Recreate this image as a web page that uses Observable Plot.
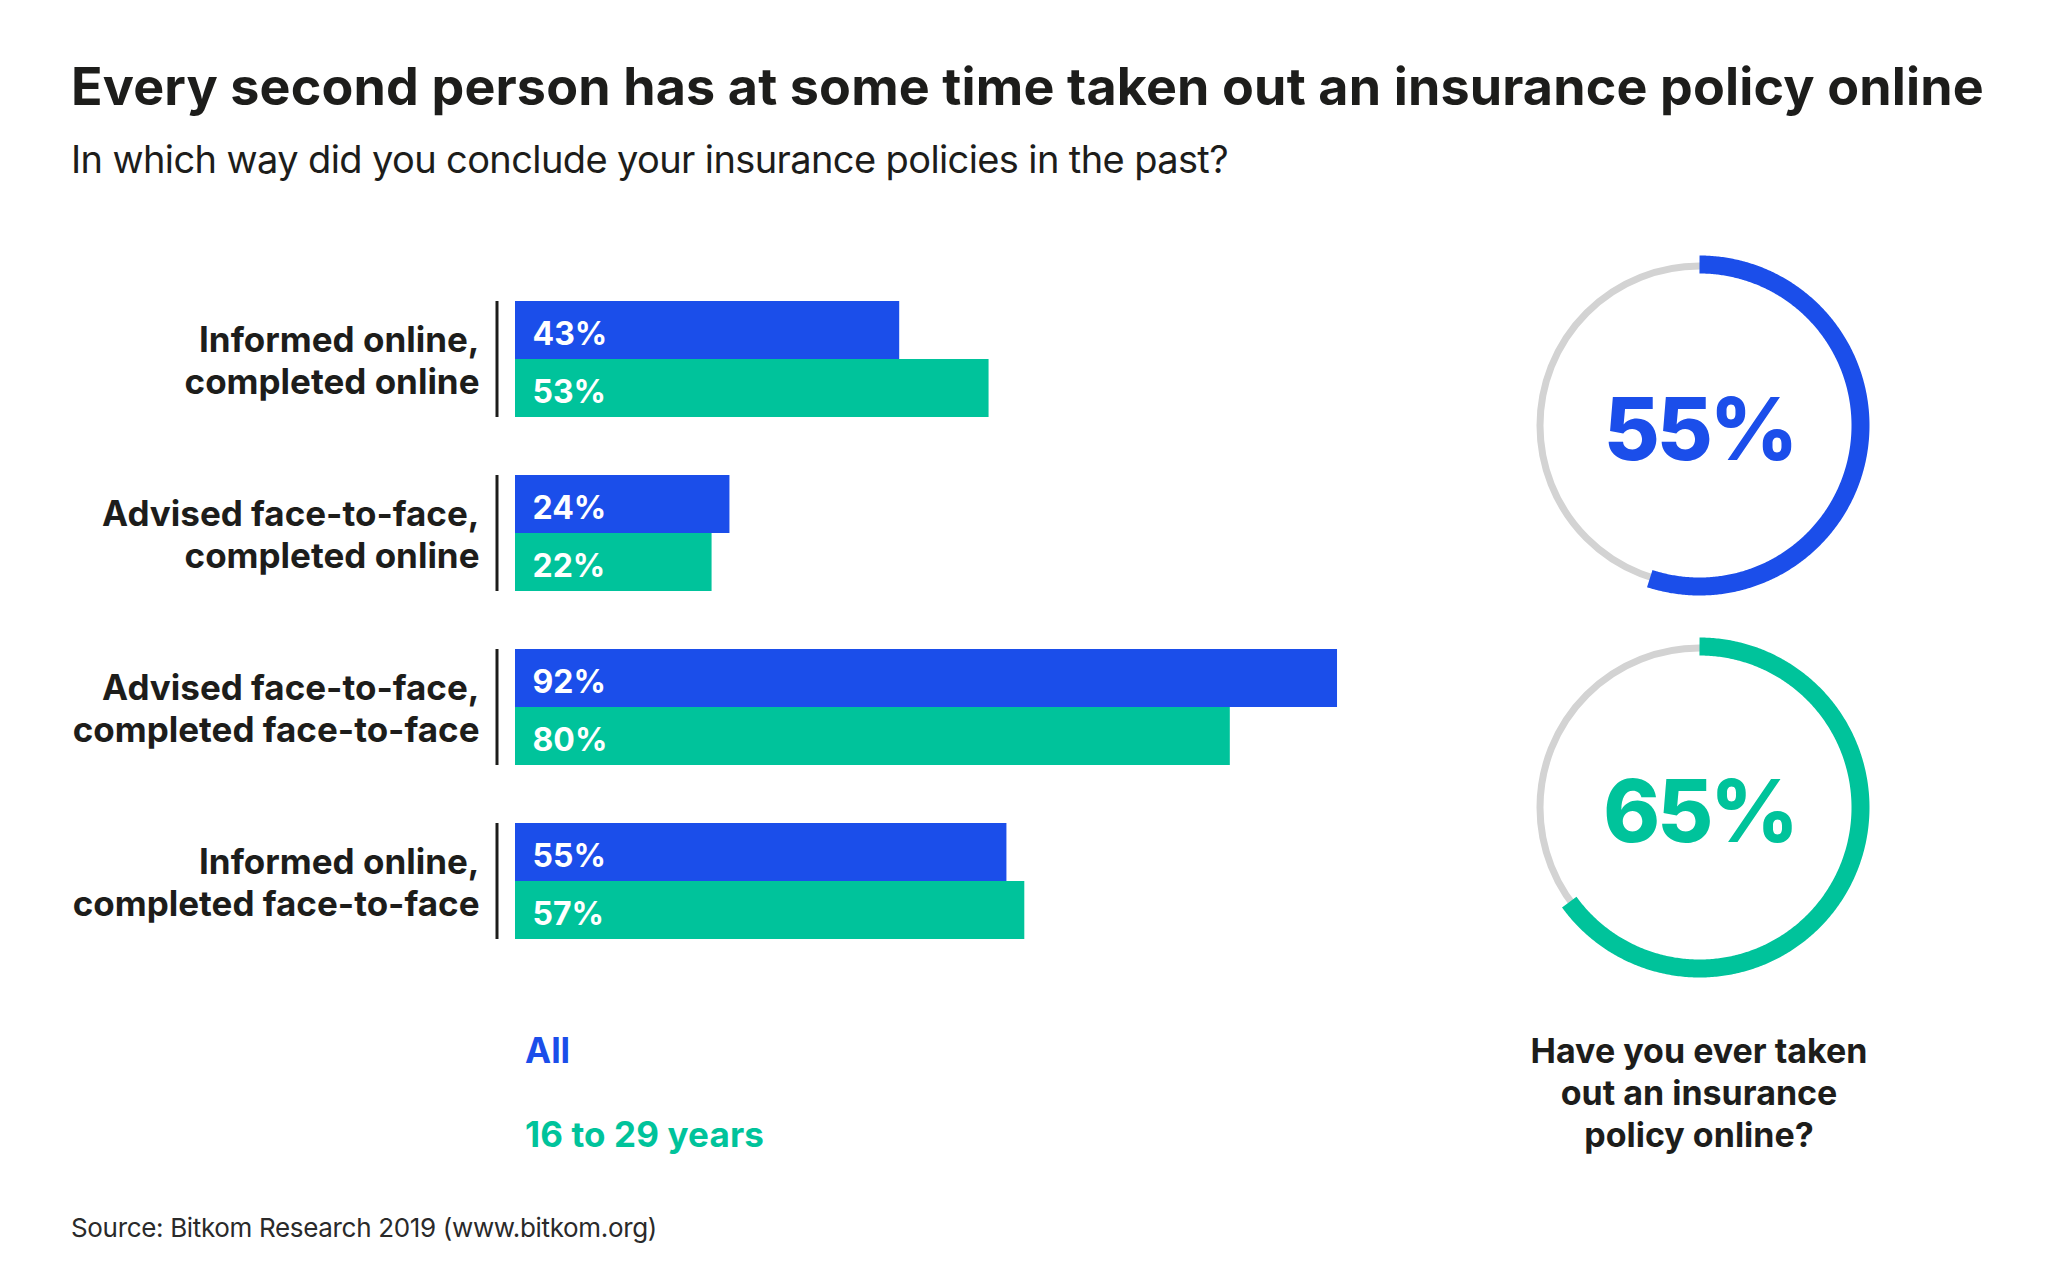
<!DOCTYPE html>
<html>
<head>
<meta charset="utf-8">
<script src="https://cdn.jsdelivr.net/npm/d3@7"></script>
<script src="https://cdn.jsdelivr.net/npm/@observablehq/plot@0.6"></script>
<style>
  html, body { margin: 0; padding: 0; background: #fff; }
  body { width: 2048px; height: 1270px; position: relative; overflow: hidden; font-family: Inter, "Noto Sans", sans-serif; color: #1d1d1b; }
  .abs { position: absolute; white-space: nowrap; line-height: 1; }
  #title { left: 71px; top: 61px; font-size: 52px; font-weight: 700; }
  #subtitle { left: 71px; top: 140px; font-size: 38px; font-weight: 400; }
  #source { left: 71px; top: 1215px; font-size: 26px; font-weight: 400; color: #2a2a2a; }
  .legend { left: 525px; font-size: 35px; font-weight: 700; }
  #question { left: 1499px; width: 400px; top: 1030px; font-size: 34px; font-weight: 700; text-align: center; line-height: 42px; white-space: normal; }
  #bars { position: absolute; left: 0; top: 280px; }
  .donut { position: absolute; }
</style>
</head>
<body>
<div id="title" class="abs">Every second person has at some time taken out an insurance policy online</div>
<div id="subtitle" class="abs">In which way did you conclude your insurance policies in the past?</div>
<div id="bars"></div>
<div id="donut0" class="donut"></div>
<div id="donut1" class="donut"></div>
<div id="legend0" class="abs legend"></div>
<div id="legend1" class="abs legend"></div>
<div id="question" class="abs"></div>
<div id="source" class="abs">Source: Bitkom Research 2019 (www.bitkom.org)</div>
<script>
// ---- data ----
const categories = [
  "Informed online,\ncompleted online",
  "Advised face-to-face,\ncompleted online",
  "Advised face-to-face,\ncompleted face-to-face",
  "Informed online,\ncompleted face-to-face"
];
const series = ["All", "16 to 29 years"];
const allValues = [43, 24, 92, 55];
const youngValues = [53, 22, 80, 57];
const colors = ["#1b4eea", "#00c39b"];
const donutValues = [55, 65];
const questionLines = ["Have you ever taken", "out an insurance", "policy online?"];

// ---- tables ----
const rows = [];
categories.forEach((c, i) => {
  rows.push({category: c, series: series[0], value: allValues[i]});
  rows.push({category: c, series: series[1], value: youngValues[i]});
});
const catRows = categories.map(c => ({category: c}));

const barPlot = Plot.plot({
  width: 1500,
  height: 680,
  marginLeft: 515,
  marginRight: 91.5,
  marginTop: 21,
  marginBottom: 21,
  style: {fontFamily: "Inter, 'Noto Sans', sans-serif", background: "transparent", overflow: "visible"},
  x: {domain: [0, 100], axis: null},
  y: {domain: series, padding: 0, axis: null},
  fy: {domain: categories, paddingInner: 58 / 174, paddingOuter: 0, axis: null, label: null},
  color: {domain: series, range: colors},
  marks: [
    Plot.barX(rows, {fy: "category", y: "series", x: "value", fill: "series"}),
    Plot.text(rows, {fy: "category", y: "series", x: 0, text: d => d.value + "%", textAnchor: "start",
      dx: 17, dy: 4, fill: "white", fontSize: 32, fontWeight: 700}),
    Plot.ruleX(catRows, {fy: "category", x: 0, dx: -18.5, stroke: "#1d1d1b", strokeWidth: 3}),
    Plot.text(catRows, {fy: "category", frameAnchor: "left", text: "category", textAnchor: "end",
      dx: -36, dy: 0, lineHeight: 1.2, fontSize: 35, fontWeight: 700, fill: "#1d1d1b"})
  ]
});
document.getElementById("bars").appendChild(barPlot);

// ---- donuts ----
const ringR = 161;
donutValues.forEach((v, k) => {
  const n = 400;
  const end = v / 100 * 2 * Math.PI;
  const arc = d3.range(n + 1).map(i => {
    const a = i / n * end;
    return {x: ringR * Math.sin(a), y: ringR * Math.cos(a)};
  });
  const p = Plot.plot({
    width: 400, height: 400,
    margin: 0,
    style: {fontFamily: "Inter, 'Noto Sans', sans-serif", background: "transparent", overflow: "visible"},
    x: {domain: [-200, 200], axis: null},
    y: {domain: [-200, 200], axis: null},
    marks: [
      Plot.dot([0], {x: 0, y: 0, r: 159.5, stroke: "#d3d3d3", strokeWidth: 7, fill: "none"}),
      Plot.line(arc, {x: "x", y: "y", stroke: colors[k], strokeWidth: 18, strokeLinecap: "butt", curve: "linear"}),
      Plot.text([v], {x: 0, y: 0, text: d => d + "%", fill: colors[k], fontSize: 86, fontWeight: 800, dy: 7})
    ]
  });
  p.querySelectorAll("text").forEach(t => t.setAttribute("letter-spacing", "-3"));
  const el = document.getElementById("donut" + k);
  el.style.left = "1499px";
  el.style.top = (k === 0 ? 225 : 606.5) + "px";
  el.appendChild(p);
});

// ---- legend + question ----
const l0 = document.getElementById("legend0");
l0.textContent = series[0]; l0.style.color = colors[0]; l0.style.top = "1033px";
const l1 = document.getElementById("legend1");
l1.textContent = series[1]; l1.style.color = colors[1]; l1.style.top = "1117px";
const q = document.getElementById("question");
q.innerHTML = questionLines.join("<br>");

// ---- fit text widths (letter-spacing only) ----
function fit(id, target) {
  const el = document.getElementById(id);
  el.style.letterSpacing = "0px";
  const w = el.getBoundingClientRect().width;
  const n = el.textContent.length;
  el.style.letterSpacing = ((target - w) / n) + "px";
}
fit("title", 1913);
fit("subtitle", 1157);
fit("source", 586);
fit("legend1", 239);
</script>
</body>
</html>
